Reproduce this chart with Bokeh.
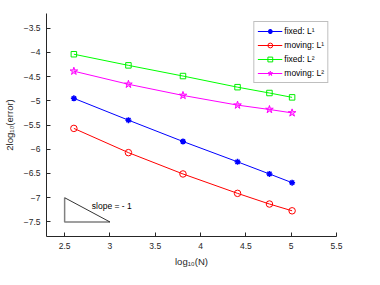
from bokeh.plotting import figure
from bokeh.models import Range1d, FixedTicker, Legend, LegendItem, Label
from bokeh.embed import file_html
from bokeh.resources import INLINE

# data
log_n = [2.602, 3.204, 3.806, 4.408, 4.760, 5.010]
fixed_l1 = [-4.95, -5.40, -5.84, -6.26, -6.51, -6.69]
moving_l1 = [-5.57, -6.07, -6.51, -6.91, -7.13, -7.27]
fixed_l2 = [-4.04, -4.27, -4.49, -4.72, -4.84, -4.93]
moving_l2 = [-4.39, -4.66, -4.89, -5.09, -5.18, -5.25]
labels = ["fixed: L\u00b9", "moving: L\u00b9", "fixed: L\u00b2", "moving: L\u00b2"]
tri_x = [2.5, 2.5, 3.0]
tri_y = [-7.0, -7.5, -7.5]
x_ticks = [2.5, 3, 3.5, 4, 4.5, 5, 5.5]
y_ticks = [-7.5, -7, -6.5, -6, -5.5, -5, -4.5, -4, -3.5]

FONT = "Liberation Sans"
AX = "#262626"

p = figure(width=364, height=269, output_backend="svg", toolbar_location=None,
           x_range=Range1d(2.3, 5.5), y_range=Range1d(-7.8, -3.2),
           min_border_left=41, min_border_right=28, min_border_top=13, min_border_bottom=27)
p.outline_line_color = None
p.grid.visible = False
p.background_fill_color = "white"
p.border_fill_color = "white"

for ax in (p.xaxis[0], p.yaxis[0]):
    ax.major_tick_in = 4
    ax.major_tick_out = 0
    ax.minor_tick_line_color = None
    ax.axis_line_color = AX
    ax.major_tick_line_color = AX
    ax.major_label_text_font = FONT
    ax.major_label_text_font_size = "8.5px"
    ax.major_label_text_color = AX
    ax.axis_label_text_font = FONT
    ax.axis_label_text_font_size = "9.5px"
    ax.axis_label_text_font_style = "normal"
    ax.axis_label_text_color = AX

p.xaxis.ticker = FixedTicker(ticks=x_ticks)
p.yaxis.ticker = FixedTicker(ticks=y_ticks)
p.xaxis.axis_label = "log\u2081\u2080(N)"
p.yaxis.axis_label = "2log\u2081\u2080(error)"
p.xaxis.major_label_standoff = 6
p.yaxis.major_label_standoff = 6
p.xaxis.axis_label_standoff = 4
p.yaxis.axis_label_standoff = 6

items = []
l = p.line(log_n, fixed_l1, color="#0000ff", line_width=1)
m = p.scatter(log_n, fixed_l1, marker="asterisk", size=6, line_color="#0000ff", line_width=1.5)
items.append(LegendItem(label=labels[0], renderers=[l, m]))

l = p.line(log_n, moving_l1, color="#ff0000", line_width=1)
m = p.scatter(log_n, moving_l1, marker="circle", size=6.5, line_color="#ff0000", fill_color=None, line_width=1)
items.append(LegendItem(label=labels[1], renderers=[l, m]))

l = p.line(log_n, fixed_l2, color="#00ff00", line_width=1)
m = p.scatter(log_n, fixed_l2, marker="square", size=5.5, line_color="#00ee00", fill_color=None, line_width=1)
items.append(LegendItem(label=labels[2], renderers=[l, m]))

l = p.line(log_n, moving_l2, color="#ff00ff", line_width=1)
m = p.scatter(log_n, moving_l2, marker="star", size=8, line_color="#ff00ff", fill_color="#ff00ff", fill_alpha=0.4, line_width=1)
items.append(LegendItem(label=labels[3], renderers=[l, m]))

# slope triangle
p.line(tri_x[:2] + [tri_x[2]], tri_y[:2] + [tri_y[2]], color="#808080", line_width=1.5)
p.line([tri_x[0], tri_x[2]], [tri_y[0], tri_y[2]], color="#000000", line_width=0.8)
p.add_layout(Label(x=2.80, y=-7.18, text="slope = - 1", text_font=FONT, text_font_size="8.5px",
                   text_color="#000000", text_baseline="middle", text_align="left"))

legend = Legend(items=items, location="top_right", margin=8,
                label_text_font=FONT, label_text_font_size="8.5px", label_text_color="#000000",
                glyph_width=25, glyph_height=12, spacing=2, padding=3, label_standoff=2,
                border_line_color="#808080", border_line_width=1, background_fill_color="white")
p.add_layout(legend)

open("out.html", "w").write(file_html(p, INLINE))
